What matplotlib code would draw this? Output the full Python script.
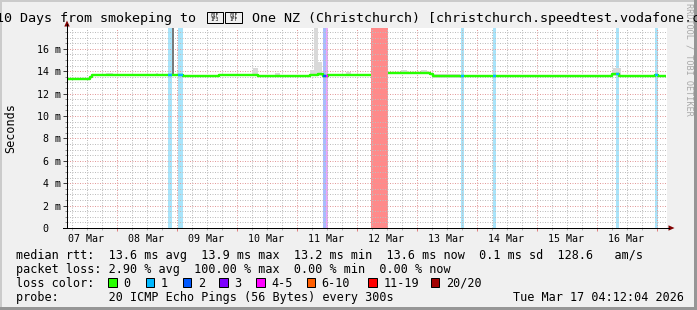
import numpy as np
import matplotlib
matplotlib.use('Agg')
import matplotlib.pyplot as plt
from matplotlib.patches import Rectangle, Polygon
from matplotlib.lines import Line2D
from matplotlib.ticker import FixedLocator, FuncFormatter, NullFormatter

# ---------------- data ----------------
# time axis: days since 2026-03-07 00:00
t_start = 0.175          # Sat Mar 07 04:12
t_end = 10.175           # Tue Mar 17 04:12
line_end = 10.158        # end of last sample
day_labels = ['07 Mar', '08 Mar', '09 Mar', '10 Mar', '11 Mar',
              '12 Mar', '13 Mar', '14 Mar', '15 Mar', '16 Mar']
y_ticks = [0, 2, 4, 6, 8, 10, 12, 14, 16]
y_tick_labels = [' 0', ' 2 m', ' 4 m', ' 6 m', ' 8 m', '10 m', '12 m', '14 m', '16 m']
y_max = 17.86

# median rtt (ms) as steps: segment start (day), value, lost pings (of 20)
seg_start = [0.175, 0.325, 0.558, 0.592, 1.100, 1.500, 1.853, 1.930, 2.020, 2.103,
             2.700, 3.275, 3.358, 3.900, 4.225, 4.358, 4.437, 4.487, 4.525, 4.700,
             5.242, 5.525, 5.775, 6.225, 6.275, 6.742, 6.792, 7.275, 7.325, 7.900,
             9.258, 9.325, 9.375, 9.975, 10.025]
seg_median = [13.35, 13.28, 13.45, 13.64, 13.62, 13.66, 13.63, 13.63, 13.62, 13.60,
              13.63, 13.66, 13.57, 13.60, 13.62, 13.72, 13.53, 13.53, 13.65, 13.62,
              np.nan, 13.84, 13.88, 13.72, 13.53, 13.56, 13.57, 13.58, 13.58, 13.59,
              13.78, 13.75, 13.60, 13.62, 13.61]
seg_loss = [0, 0, 0, 0, 0, 0, 1, 0, 1, 0,
            0, 0, 0, 0, 0, 0, 2, 4, 0, 0,
            20, 0, 0, 0, 0, 1, 0, 1, 0, 0,
            0, 1, 0, 1, 0]

# smoke (spread of individual pings), light
smoke_start = [0.825, 1.658, 3.275, 3.642, 4.225, 4.292, 4.358, 4.825, 5.742, 6.075, 6.275, 9.275]
smoke_end   = [0.942, 1.692, 3.358, 3.725, 4.292, 4.358, 4.425, 4.908, 5.842, 6.175, 6.725, 9.408]
smoke_lo    = [13.55, 13.55, 13.55, 13.55, 13.55, 13.55, 13.60, 13.55, 13.80, 13.80, 13.42, 13.60]
smoke_hi    = [13.81, 13.80, 14.28, 13.80, 14.10, 18.50, 14.85, 13.96, 14.10, 14.10, 13.75, 14.31]
# dense smoke
dsmoke_start = [1.925]
dsmoke_end   = [1.950]
dsmoke_lo    = [13.60]
dsmoke_hi    = [18.50]

loss_levels = ['0', '1', '2', '3', '4-5', '6-10', '11-19', '20/20']
loss_colors = ['#26ff00', '#00b8ff', '#0059ff', '#7e00ff', '#ff00ff', '#ff5e00', '#ff0000', '#a10000']
band_colors = ['#ffffff', '#a9e4fa', '#a8bdfc', '#c9a8fc', '#eba6fb', '#ffbf99', '#ff9090', '#ff8a8a']

rtt_row = 'median rtt:  13.6 ms avg  13.9 ms max  13.2 ms min  13.6 ms now  0.1 ms sd  128.6   am/s'
loss_row = 'packet loss: 2.90 % avg  100.00 % max  0.00 % min  0.00 % now'
probe_row = 'probe:       20 ICMP Echo Pings (56 Bytes) every 300s'
stamp = 'Tue Mar 17 04:12:04 2026'
title_a = '10 Days from smokeping to '
title_flag = '\U0001F1F3\U0001F1FF'   # no installed font has these: drawn as hex boxes
title_b = ' One NZ (Christchurch) [christchurch.speedtest.vodafone.co.nz]'


def level_of(n):
    if n <= 3:
        return n
    if n <= 5:
        return 4
    if n <= 10:
        return 5
    if n <= 19:
        return 6
    return 7


# ---------------- layout ----------------
W, H, DPI = 697, 310, 100
MONO = 'DejaVu Sans Mono'
PX = 72.0 / DPI  # points per pixel


def fx(x):
    return x / W


def fy(y):
    return 1 - y / H


fig = plt.figure(figsize=(W / DPI, H / DPI), dpi=DPI, facecolor='#f0f0f0')

# frame
fig.add_artist(Rectangle((0, 0), fx(2), 1, transform=fig.transFigure, color='#cbcbcb', lw=0))
fig.add_artist(Rectangle((0, fy(2)), 1, 2 / H, transform=fig.transFigure, color='#cbcbcb', lw=0))
fig.add_artist(Rectangle((fx(694), 0), 3 / W, 1, transform=fig.transFigure, color='#969696', lw=0))
fig.add_artist(Rectangle((0, 0), 1, 3 / H, transform=fig.transFigure, color='#969696', lw=0))

ax = fig.add_axes([fx(67), fy(228), 600 / W, 200 / H])
ax.set_facecolor('white')
ax.set_xlim(t_start, t_end)
ax.set_ylim(0, y_max)
for s in ax.spines.values():
    s.set_visible(False)

# loss background bands
ends = seg_start[1:] + [line_end]
for x0, x1, n in zip(seg_start, ends, seg_loss):
    if n > 0:
        ax.axvspan(x0, x1, color=band_colors[level_of(n)], lw=0, zorder=0.3)

# smoke
ax.bar(smoke_start, np.array(smoke_hi) - np.array(smoke_lo), bottom=smoke_lo,
       width=np.array(smoke_end) - np.array(smoke_start), align='edge',
       color='#d9d9d9', lw=0, zorder=1)
ax.bar(dsmoke_start, np.array(dsmoke_hi) - np.array(dsmoke_lo), bottom=dsmoke_lo,
       width=np.array(dsmoke_end) - np.array(dsmoke_start), align='edge',
       color='#7a7a7a', lw=0, zorder=1.1)

# median line
xs = seg_start + [line_end]
ys = seg_median + [seg_median[-1]]
ax.step(xs, ys, where='post', color=loss_colors[0], lw=2.4 * PX, zorder=3,
        solid_capstyle='butt')
for x0, x1, v, n in zip(seg_start, ends, seg_median, seg_loss):
    if n > 0 and not np.isnan(v):
        ax.hlines(v, x0, x1, colors=loss_colors[level_of(n)], lw=2.4 * PX, zorder=4)

# grid / ticks
ax.xaxis.set_major_locator(FixedLocator(list(range(1, 11))))
ax.xaxis.set_major_formatter(NullFormatter())
ax.xaxis.set_minor_locator(FixedLocator([q / 4 for q in range(1, 41) if q % 4]))


def day_fmt(v, pos):
    if abs(v - np.floor(v) - 0.5) < 1e-6:
        return day_labels[int(np.floor(v))]
    return ''


ax.xaxis.set_minor_formatter(FuncFormatter(day_fmt))
ax.set_yticks(y_ticks, labels=y_tick_labels, ha='left', family=MONO, fontsize=10 * PX)
ax.yaxis.set_minor_locator(FixedLocator([q / 2 for q in range(1, 36) if q % 4]))

ax.set_axisbelow(True)
ax.grid(which='major', color='#e39a9a', lw=1 * PX, ls=(0, (1, 1.5)))
ax.grid(which='minor', color='#bdbdbd', lw=1 * PX, ls=(0, (1, 1.5)))

ax.tick_params(axis='x', which='major', length=3 * PX, width=1 * PX, color='#e08080')
ax.tick_params(axis='x', which='minor', length=2 * PX, width=1 * PX, color='#b0b0b0',
               pad=3.5 * PX, labelsize=10 * PX)
ax.tick_params(axis='y', which='major', length=4 * PX, width=1 * PX, color='#404040',
               pad=26.3 * PX)
ax.tick_params(axis='y', which='minor', length=2 * PX, width=1 * PX, color='#909090')
for lbl in ax.get_xticklabels(minor=True):
    lbl.set_family(MONO)

# axis lines with arrows
fig.add_artist(Line2D([fx(63), fx(669)], [fy(228), fy(228)], transform=fig.transFigure,
                      color='black', lw=1 * PX))
fig.add_artist(Line2D([fx(67), fx(67)], [fy(228), fy(24)], transform=fig.transFigure,
                      color='black', lw=1 * PX))
fig.add_artist(Polygon([(fx(67), fy(20.5)), (fx(64.3), fy(26.5)), (fx(69.7), fy(26.5))],
                       closed=True, transform=fig.transFigure, color='#7f0000', lw=0))
fig.add_artist(Polygon([(fx(674.5), fy(228)), (fx(668.5), fy(225.3)), (fx(668.5), fy(230.7))],
                       closed=True, transform=fig.transFigure, color='#7f0000', lw=0))

# title
TS = 13.4 * PX
fig.text(fx(-4.2), fy(22), title_a, ha='left', va='baseline', family=MONO, fontsize=TS)
# missing-glyph boxes (hex code boxes) for the flag characters
for i, ch in enumerate(title_flag):
    bx = 206.5 + i * 18.8
    fig.add_artist(Rectangle((fx(bx), fy(23)), 16.5 / W, 11 / H, transform=fig.transFigure,
                             facecolor='none', edgecolor='black', lw=1 * PX))
    code = '%06X' % ord(ch)
    fig.text(fx(bx + 8.25), fy(17.5), code[:3] + '\n' + code[3:], ha='center', va='center',
             family=MONO, fontsize=4.6 * PX, linespacing=0.95)
fig.text(fx(244.3), fy(22), title_b, ha='left', va='baseline', family=MONO, fontsize=TS)

# watermark
fig.text(fx(689), fy(3), 'RRDTOOL / TOBI OETIKER', rotation=270, ha='center', va='top',
         family=MONO, fontsize=8.5 * PX, color='#a8a8a8')

# y label
fig.text(fx(11), fy(128), 'Seconds', rotation=90, ha='center', va='center',
         family=MONO, fontsize=11.8 * PX)

# legend
LS = 11.8 * PX
fig.text(fx(16), fy(259), rtt_row, ha='left', va='baseline', family=MONO, fontsize=LS)
fig.text(fx(16), fy(273), loss_row, ha='left', va='baseline', family=MONO, fontsize=LS)
fig.text(fx(16), fy(287), 'loss color:', ha='left', va='baseline', family=MONO, fontsize=LS)
fig.text(fx(16), fy(301), probe_row, ha='left', va='baseline', family=MONO, fontsize=LS)
fig.text(fx(513), fy(301), stamp, ha='left', va='baseline', family=MONO, fontsize=LS)

sq_left = [108.3, 145.7, 182.7, 219.3, 256.0, 306.7, 368.3, 430.7]
for xl, col, lab in zip(sq_left, loss_colors, loss_levels):
    fig.add_artist(Rectangle((fx(xl), fy(286.8)), 8.5 / W, 8.5 / H, transform=fig.transFigure,
                             facecolor=col, edgecolor='black', lw=1 * PX))
    fig.text(fx(xl + 15), fy(287), lab, ha='left', va='baseline', family=MONO, fontsize=LS)

fig.savefig('out.png', dpi=DPI, facecolor=fig.get_facecolor())
